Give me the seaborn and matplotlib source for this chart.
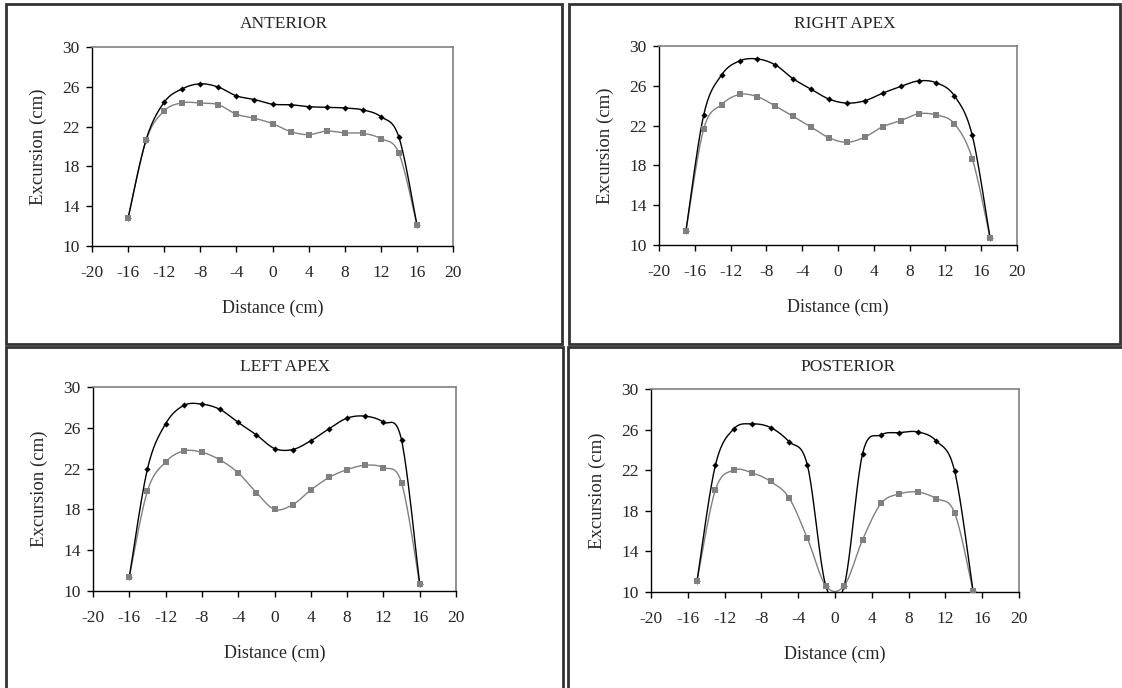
import numpy as np
import pandas as pd
import matplotlib
matplotlib.use("Agg")
import matplotlib.pyplot as plt
from matplotlib.patches import Rectangle
import seaborn as sns

# distances (cm)
x_even = [-16, -14, -12, -10, -8, -6, -4, -2, 0, 2, 4, 6, 8, 10, 12, 14, 16]
x_odd = [-17, -15, -13, -11, -9, -7, -5, -3, -1, 1, 3, 5, 7, 9, 11, 13, 15, 17]
x_post = [-15, -13, -11, -9, -7, -5, -3, -1, 1, 3, 5, 7, 9, 11, 13, 15]

# excursion (cm), black series / gray series
ant_black = [12.8, 20.7, 24.45, 25.8, 26.3, 25.97, 25.09, 24.72, 24.25, 24.2, 24.0, 23.95, 23.88, 23.68, 23.0, 20.96, 12.15]
ant_gray = [12.8, 20.65, 23.58, 24.39, 24.37, 24.2, 23.24, 22.84, 22.3, 21.5, 21.19, 21.56, 21.36, 21.33, 20.79, 19.34, 12.15]

rap_black = [11.37, 23.09, 27.1, 28.5, 28.7, 28.1, 26.7, 25.66, 24.66, 24.26, 24.5, 25.26, 25.93, 26.49, 26.3, 25.0, 21.02, 10.67]
rap_gray = [11.37, 21.69, 24.12, 25.13, 24.9, 23.96, 22.92, 21.85, 20.78, 20.32, 20.85, 21.89, 22.5, 23.19, 23.06, 22.19, 18.68, 10.67]

lap_black = [11.37, 21.97, 26.39, 28.19, 28.32, 27.8, 26.52, 25.31, 23.97, 23.87, 24.73, 25.9, 26.95, 27.14, 26.56, 24.79, 10.65]
lap_gray = [11.37, 19.81, 22.65, 23.73, 23.6, 22.85, 21.58, 19.65, 18.0, 18.46, 19.9, 21.13, 21.9, 22.33, 22.1, 20.6, 10.65]

post_black = [11.08, 22.49, 26.07, 26.56, 26.2, 24.82, 22.49, 10.62, 10.62, 23.64, 25.48, 25.7, 25.77, 24.89, 21.93, 10.13]
post_gray = [11.08, 20.07, 22.0, 21.74, 20.89, 19.28, 15.28, 10.62, 10.62, 15.15, 18.72, 19.67, 19.84, 19.21, 17.8, 10.13]

titles = ["ANTERIOR", "RIGHT APEX", "LEFT APEX", "POSTERIOR"]
xs = [x_even, x_odd, x_even, x_post]
blacks = [ant_black, rap_black, lap_black, post_black]
grays = [ant_gray, rap_gray, lap_gray, post_gray]


def smooth(x, y, n=20):
    # Excel-style smoothed line (Catmull-Rom bezier through the points)
    x = np.asarray(x, float)
    y = np.asarray(y, float)
    px = np.concatenate([[x[0]], x, [x[-1]]])
    py = np.concatenate([[y[0]], y, [y[-1]]])
    t = np.linspace(0, 1, n, endpoint=False)
    ox, oy = [], []
    for i in range(1, len(px) - 2):
        for p, out in ((px, ox), (py, oy)):
            p0, p1 = p[i], p[i + 1]
            c1 = p0 + (p[i + 1] - p[i - 1]) / 6
            c2 = p1 - (p[i + 2] - p[i]) / 6
            out.extend((1 - t) ** 3 * p0 + 3 * (1 - t) ** 2 * t * c1 + 3 * (1 - t) * t ** 2 * c2 + t ** 3 * p1)
    ox.append(x[-1])
    oy.append(y[-1])
    return np.array(ox), np.array(oy)


sns.set_style("white")
plt.rcParams["font.family"] = ["Liberation Serif", "DejaVu Serif"]
plt.rcParams["font.size"] = 12.5
plt.rcParams["axes.unicode_minus"] = False

fig = plt.figure(figsize=(11.22, 6.88), dpi=100)
W, H = 1122.0, 688.0

# axes boxes in pixels: left, right, top, bottom
boxes = [(92, 453, 47, 246), (659, 1017, 46, 245), (93, 456, 387, 591), (651, 1019, 389, 592)]
# panel frames in pixels
frames = [(6, 562, 4, 344), (569, 1120, 4, 344), (6, 563, 347, 694), (568, 1128, 347, 694)]

palette = {"upper": "black", "lower": "#808080"}
markers = {"upper": "D", "lower": "s"}

for k in range(4):
    l, r, t, b = boxes[k]
    ax = fig.add_axes([l / W, 1 - b / H, (r - l) / W, (b - t) / H])

    pts = pd.DataFrame({
        "x": xs[k] * 2,
        "y": blacks[k] + grays[k],
        "series": ["upper"] * len(xs[k]) + ["lower"] * len(xs[k]),
    })
    curves = []
    for name, vals in (("lower", grays[k]), ("upper", blacks[k])):
        sx, sy = smooth(xs[k], vals)
        curves.append(pd.DataFrame({"x": sx, "y": sy, "series": name}))
    curves = pd.concat(curves, ignore_index=True)

    sns.lineplot(data=curves, x="x", y="y", hue="series", palette=palette,
                 estimator=None, sort=False, linewidth=1.0, legend=False, ax=ax)
    for name in ("upper", "lower"):
        sub = pts[pts.series == name]
        sns.scatterplot(data=sub, x="x", y="y", color=palette[name], marker=markers[name],
                        s=14 if name == "lower" else 10, linewidth=0, legend=False, ax=ax, zorder=3)

    ax.set_xlim(-20, 20)
    ax.set_ylim(10, 30)
    ax.set_xticks(range(-20, 21, 4))
    ax.set_yticks(range(10, 31, 4))
    ax.set_xlabel("Distance (cm)", fontsize=13, labelpad=13)
    ax.set_ylabel("Excursion (cm)", fontsize=13.5, labelpad=11)
    ax.tick_params(axis="x", direction="out", length=4, width=1, color="black",
                   labelsize=12.5, pad=10, bottom=True)
    ax.tick_params(axis="y", direction="out", length=4, width=1, color="black",
                   labelsize=12.5, pad=5, left=True)
    for side in ("left", "bottom"):
        ax.spines[side].set_color("black")
        ax.spines[side].set_linewidth(1)
    for side in ("top", "right"):
        ax.spines[side].set_color("#808080")
        ax.spines[side].set_linewidth(1.2)
    ax.set_facecolor("white")

    fl, fr, ft, fb = frames[k]
    fig.text((fl + fr) / 2 / W, 1 - (ft + 20) / H, titles[k], ha="center", va="center", fontsize=12.5)
    fig.patches.append(Rectangle((fl / W, 1 - fb / H), (fr - fl) / W, (fb - ft) / H,
                                 transform=fig.transFigure, fill=False, edgecolor="#333333", linewidth=2))

fig.savefig("out.png", dpi=100)
